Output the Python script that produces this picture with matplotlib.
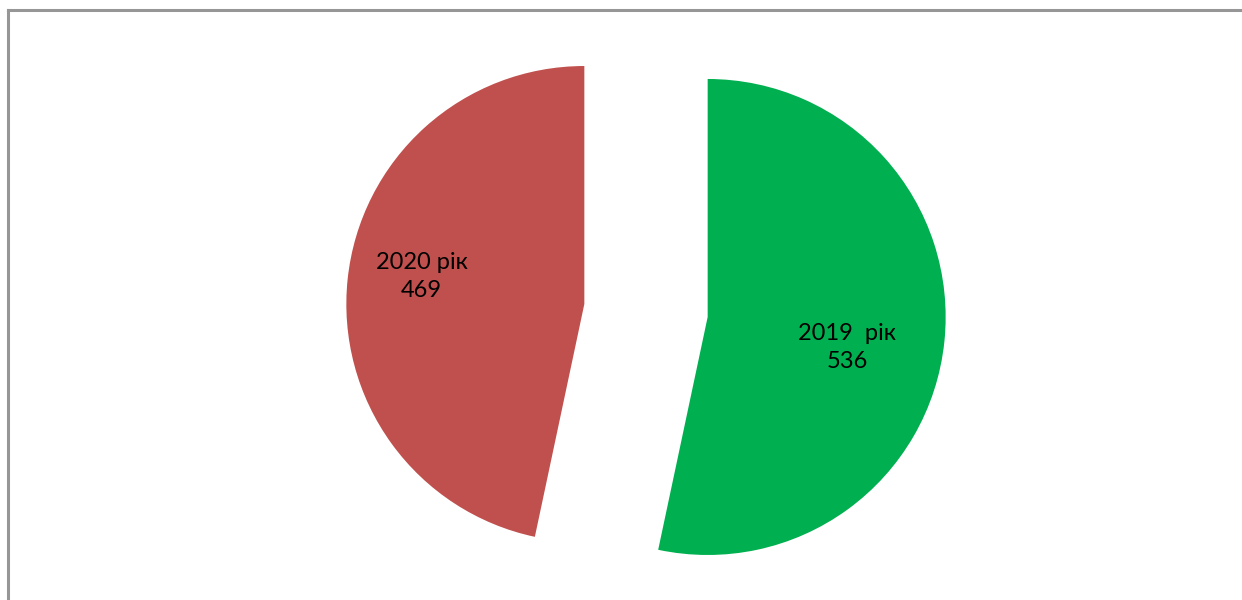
import matplotlib
matplotlib.use("Agg")
import matplotlib.pyplot as plt
from matplotlib.lines import Line2D

# Data
categories = ["2019  рік", "2020 рік"]
values = [536, 469]
colors = ["#00B050", "#C0504D"]

plt.rcParams['font.family'] = ['Lato', 'Open Sans', 'DejaVu Sans']

W, H = 1242, 600
fig = plt.figure(figsize=(W / 100, H / 100), dpi=100)
ax = fig.add_axes([0, 0, 1, 1])

center = (646, H - 310.5)
radius = 238
explode = [62, 62]

labels = [f"{c}\n{v}" for c, v in zip(categories, values)]
wedges, texts = ax.pie(values, labels=labels, colors=colors, startangle=90,
                       counterclock=False, center=center, radius=radius,
                       explode=explode, labeldistance=0.62,
                       wedgeprops=dict(linewidth=0),
                       textprops=dict(fontsize=17, color="black",
                                      ha="center", va="center", linespacing=1.4))
# fine-tune label positions (pixels)
label_shift = [(-7, -15), (-16, 12)]
for t, (dx, dy) in zip(texts, label_shift):
    x, y = t.get_position()
    t.set_position((x + dx, y + dy))
    t.set_horizontalalignment("center")

ax.set_xlim(0, W)
ax.set_ylim(0, H)
ax.set_aspect("equal")
ax.axis("off")

# chart area border (left and top)
border_color = "#969696"
fig.add_artist(Line2D([7.5 / W, 7.5 / W], [0, 1 - 10 / H], transform=fig.transFigure,
                      color=border_color, linewidth=2.2))
fig.add_artist(Line2D([7.5 / W, 1], [1 - 10 / H, 1 - 10 / H], transform=fig.transFigure,
                      color=border_color, linewidth=2.2))

fig.savefig("out.png", dpi=100)
